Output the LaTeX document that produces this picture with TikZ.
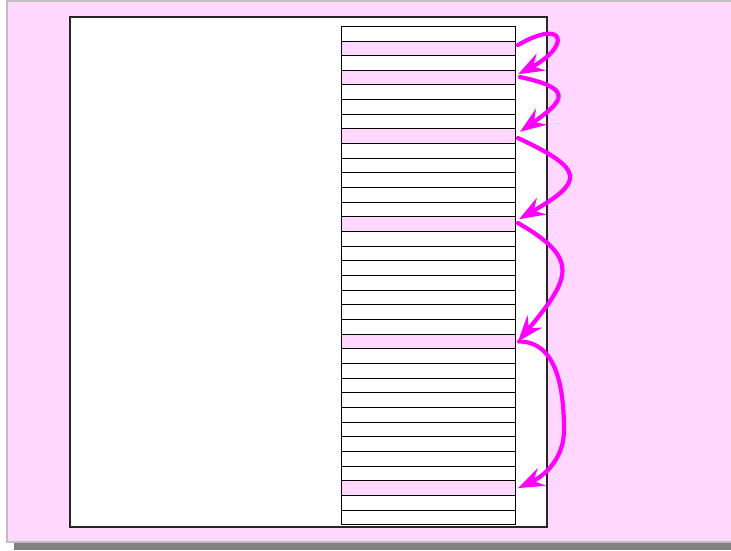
\documentclass[tikz,border=0pt]{standalone}
\usetikzlibrary{arrows.meta,calc}
\definecolor{bgpink}{RGB}{255,215,255}
\definecolor{arrmag}{RGB}{255,0,255}
\begin{document}
\begin{tikzpicture}[x=1pt,y=1pt,
  rowbox/.style={draw=black, line width=0.9pt, minimum width=174pt, minimum height=14.66pt, inner sep=0pt, outer sep=0pt, anchor=north west},
  jump/.style={draw=arrmag, line width=4.2pt, line cap=round, -{Stealth[length=26pt,width=19pt,inset=9pt]}}
]
\useasboundingbox (0,0) rectangle (731,-550);
\clip (0,0) rectangle (731,-550);
\fill[black!50] (14,-542.5) rectangle (731,-550);
\draw[fill=bgpink, draw=black!25, line width=1.6pt] (7,-1.2) rectangle (740,-541.8);
\node[draw=black!85, fill=white, line width=1.1pt, minimum width=477pt, minimum height=510pt, anchor=north west, inner sep=0pt, outer sep=0pt] (page) at (70,-17) {};
\foreach \i/\f in {0/white,1/bgpink,2/white,3/bgpink,4/white,5/white,6/white,7/bgpink,8/white,9/white,10/white,11/white,12/white,13/bgpink,14/white,15/white,16/white,17/white,18/white,19/white,20/white,21/bgpink,22/white,23/white,24/white,25/white,26/white,27/white,28/white,29/white,30/white,31/bgpink,32/white,33/white}
  \node[rowbox, fill=\f] (r\i) at (341, {-26.3-14.66*\i}) {};
\coordinate (k5) at (564,-430);
\draw[jump] ([shift={(3,3.3)}]r1.east) .. controls +(30:55) and +(28:60) .. ([shift={(3,3.3)}]r3.east);
\draw[jump] ([shift={(5,0.6)}]r3.east) .. controls +(-12:55) and +(35:55) .. ([shift={(5,4.5)}]r7.east);
\draw[jump] ([shift={(3,-1.8)}]r7.east) .. controls +(-25:75) and +(30:75) .. ([shift={(4,5)}]r13.east);
\draw[jump] ([shift={(3,1.2)}]r13.east) .. controls +(-30:70) and +(50:85) .. ([shift={(3,0)}]r21.east);
\draw[jump] ([shift={(4,0)}]r21.east) to[out=0,in=90] (k5) to[out=-90,in=25] ([shift={(3,0)}]r31.east);
\end{tikzpicture}
\end{document}
